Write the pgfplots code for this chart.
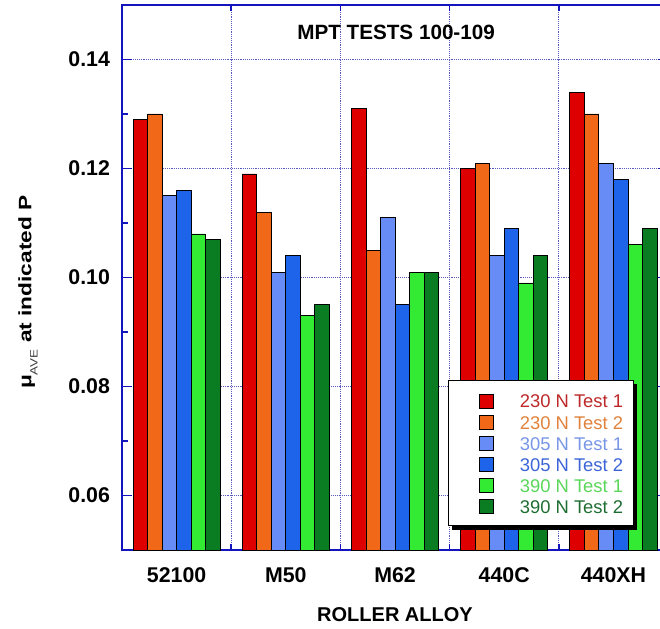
\documentclass[border=0pt]{standalone}
\usepackage{fontspec}
\setmainfont{Liberation Sans}
\usepackage{pgfplots}
\pgfplotsset{compat=1.18}
\usetikzlibrary{shadows}
\makeatletter
\tikzset{no preactions/.code={\let\tikz@preactions\pgfutil@empty}}
\makeatother
\definecolor{cR}{RGB}{222,0,0}
\definecolor{cO}{RGB}{240,104,24}
\definecolor{cLB}{RGB}{104,140,245}
\definecolor{cB}{RGB}{30,100,235}
\definecolor{cLG}{RGB}{50,235,50}
\definecolor{cG}{RGB}{10,125,35}
\definecolor{tR}{RGB}{190,40,40}
\definecolor{tO}{RGB}{225,130,60}
\definecolor{tLB}{RGB}{120,150,230}
\definecolor{tB}{RGB}{60,100,215}
\definecolor{tLG}{RGB}{90,215,90}
\definecolor{tG}{RGB}{30,110,50}
\definecolor{axblue}{RGB}{20,20,190}
\definecolor{gridc}{RGB}{90,90,190}
\begin{document}
\begin{tikzpicture}
\begin{axis}[
  name=ax, set layers,
  scale only axis, width=409.5pt, height=408.75pt,
  xmin=-0.5, xmax=4.5, ymin=0.05, ymax=0.15,
  ybar=0pt, bar width=0.133,
  axis line style={axblue, line width=2pt},
  xtick={0,1,2,3,4}, xticklabels={52100,M50,M62,440C,440XH},
  major x tick style={draw=none},
  minor xtick={0.5,1.5,2.5,3.5}, xminorgrids,
  minor x grid style={gridc, densely dotted, line width=0.9pt},
  ytick={0.06,0.08,0.10,0.12,0.14},
  minor ytick={0.05,0.07,0.09,0.11,0.13,0.15},
  ymajorgrids,
  major y grid style={gridc, densely dotted, line width=0.9pt},
  tick align=inside,
  tick style={axblue, line width=1.2pt},
  major tick length=7.5pt, minor tick length=4.5pt,
  yticklabel style={/pgf/number format/fixed, /pgf/number format/fixed zerofill, /pgf/number format/precision=2, /pgf/number format/assume math mode=true},
  tick label style={font=\fontsize{16}{19}\selectfont\bfseries},
  yticklabel style={xshift=-5.5pt},
  xticklabel style={yshift=-10pt},
  legend style={at={(rel axis cs:0.597,0.312)}, anchor=north west, draw=black, line width=0.6pt, fill=white,
     font=\fontsize{13.8}{16}\selectfont, row sep=2.8pt,
     drop shadow={shadow xshift=3pt, shadow yshift=-3pt, fill=black, opacity=1},
     nodes={inner sep=0pt, text height=12.2pt, text depth=0.8pt}, inner xsep=7.5pt, inner ysep=8.5pt},
  legend cell align=left,
  legend image code/.code={\draw[no preactions, #1, draw=black, line width=0.6pt] (0pt,-6pt) rectangle (10.5pt,4.5pt); \path (-15.5pt,0pt) (30pt,0pt);},
]
\addplot[fill=cR, draw=black, line width=0.6pt] coordinates {(0,0.129) (1,0.119) (2,0.131) (3,0.120) (4,0.134)};
\addlegendentry{\textcolor{tR}{230 N Test 1}}
\addplot[fill=cO, draw=black, line width=0.6pt] coordinates {(0,0.130) (1,0.112) (2,0.105) (3,0.121) (4,0.130)};
\addlegendentry{\textcolor{tO}{230 N Test 2}}
\addplot[fill=cLB, draw=black, line width=0.6pt] coordinates {(0,0.115) (1,0.101) (2,0.111) (3,0.104) (4,0.121)};
\addlegendentry{\textcolor{tLB}{305 N Test 1}}
\addplot[fill=cB, draw=black, line width=0.6pt] coordinates {(0,0.116) (1,0.104) (2,0.095) (3,0.109) (4,0.118)};
\addlegendentry{\textcolor{tB}{305 N Test 2}}
\addplot[fill=cLG, draw=black, line width=0.6pt] coordinates {(0,0.108) (1,0.093) (2,0.101) (3,0.099) (4,0.106)};
\addlegendentry{\textcolor{tLG}{390 N Test 1}}
\addplot[fill=cG, draw=black, line width=0.6pt] coordinates {(0,0.107) (1,0.095) (2,0.101) (3,0.104) (4,0.109)};
\addlegendentry{\textcolor{tG}{390 N Test 2}}
\node[font=\fontsize{15.5}{18}\selectfont\bfseries] at (rel axis cs:0.502,0.95) {MPT TESTS 100-109};
\end{axis}
\node[font=\fontsize{15}{18}\selectfont\bfseries] at ([yshift=-48.5pt]ax.south) {ROLLER ALLOY};
\node[rotate=90, font=\fontsize{13.5}{16}\selectfont\bfseries] at ([xshift=-70.5pt,yshift=-11pt]ax.west) {\scalebox{1.26}[1]{μ\raisebox{-0.35em}{\color{black!75}\fontsize{8}{8}\selectfont\mdseries AVE} at indicated P}};
\pgfresetboundingbox
\path ([xshift=-91.5pt,yshift=-58.5pt]ax.south west) rectangle ([xshift=-6pt,yshift=3.75pt]ax.north east);
\end{tikzpicture}
\end{document}
